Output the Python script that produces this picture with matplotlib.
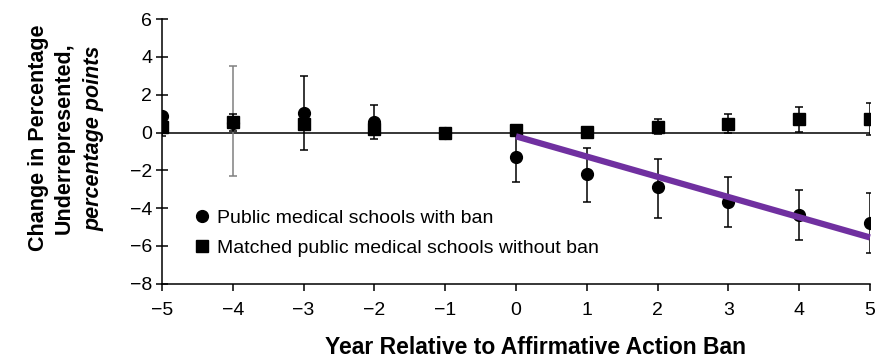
import matplotlib

matplotlib.use('agg')

import numpy as np
import matplotlib.pyplot as plt
from matplotlib.lines import Line2D

plt.rcParams['font.family'] = ['Liberation Sans', 'DejaVu Sans']

# values
years = [-5, -4, -3, -2, -1, 0, 1, 2, 3, 4, 5]

ban_mean = [0.9, 0.5, 1.05, 0.55, 0.0, -1.27, -2.2, -2.9, -3.65, -4.35, -4.8]
ban_lo = [-0.2, -2.3, -0.95, -0.35, 0.0, -2.6, -3.65, -4.5, -5.0, -5.68, -6.37]
ban_hi = [1.1, 3.5, 3.0, 1.45, 0.0, 0.0, -0.8, -1.38, -2.33, -3.03, -3.19]
ban_ecolor = ['black', 'grey', 'black', 'black', 'black', 'black',
              'black', 'black', 'black', 'black', 'black']

match_mean = [0.3, 0.55, 0.45, 0.2, 0.0, 0.15, 0.05, 0.28, 0.45, 0.7, 0.72]
match_lo = [0.0, 0.1, 0.2, -0.1, 0.0, 0.0, -0.05, -0.1, -0.05, 0.05, -0.15]
match_hi = [0.6, 0.96, 0.7, 0.5, 0.0, 0.3, 0.15, 0.7, 0.96, 1.35, 1.55]

trend_x = [0, 5]
trend_y = [-0.2, -5.55]

yticks = np.arange(-8, 7, 2)

fig = plt.figure(figsize=(8.75, 3.61), dpi=100)
ax = fig.add_axes([0.1851, 0.214, 0.8091, 0.733])

ax.axhline(0, color='black', lw=1.1, zorder=1)

for x, m, lo, hi, c in zip(years, ban_mean, ban_lo, ban_hi, ban_ecolor):
    ax.errorbar([x], [m], yerr=[[m - lo], [hi - m]], fmt='none',
                ecolor=c, elinewidth=1.1, capsize=3.2, capthick=1.1, zorder=2)
ax.plot(years, ban_mean, 'o', color='black', ms=8.5, zorder=4)

ax.errorbar(years, match_mean,
            yerr=[np.array(match_mean) - np.array(match_lo),
                  np.array(match_hi) - np.array(match_mean)],
            fmt='s', color='black', ms=8, ecolor='black',
            elinewidth=1.1, capsize=3.2, capthick=1.1, zorder=3)

ax.plot(trend_x, trend_y, color='#7030A0', lw=4.5, solid_capstyle='butt',
        zorder=5, clip_on=False)

ax.set_xlim(-5, 5)
ax.set_ylim(-8, 6)
ax.set_xticks(years)
ax.set_yticks(yticks)
ax.spines['top'].set_visible(False)
ax.spines['right'].set_visible(False)
ax.spines['left'].set_linewidth(1.1)
ax.spines['bottom'].set_linewidth(1.1)
ax.tick_params(axis='x', direction='out', length=5, width=1.1,
               labelsize=14, pad=8)
ax.tick_params(axis='y', direction='inout', length=8, width=1.1,
               labelsize=14, pad=3)

ax.set_xlabel('Year Relative to Affirmative Action Ban', fontsize=16.5,
              fontweight='bold')
ax.xaxis.set_label_coords(0.528, -0.198)

# y label on three lines, last one italic
fig.text(0.044, 0.618, 'Change in Percentage', rotation=90, fontsize=15.5,
         fontweight='bold', ha='center', va='center')
fig.text(0.073, 0.618, 'Underrepresented,', rotation=90, fontsize=15.5,
         fontweight='bold', ha='center', va='center')
fig.text(0.107, 0.618, 'percentage points', rotation=90, fontsize=15.5,
         fontweight='bold', style='italic', ha='center', va='center')

handles = [
    Line2D([], [], marker='o', ls='none', color='black', ms=8.5),
    Line2D([], [], marker='s', ls='none', color='black', ms=8),
]
labels = ['Public medical schools with ban',
          'Matched public medical schools without ban']
ax.legend(handles, labels, loc='upper left', bbox_to_anchor=(0.0285, 0.31),
          frameon=False, fontsize=14, handletextpad=0.2, labelspacing=0.64,
          handlelength=1.2, borderaxespad=0)

plt.savefig('out.png')
